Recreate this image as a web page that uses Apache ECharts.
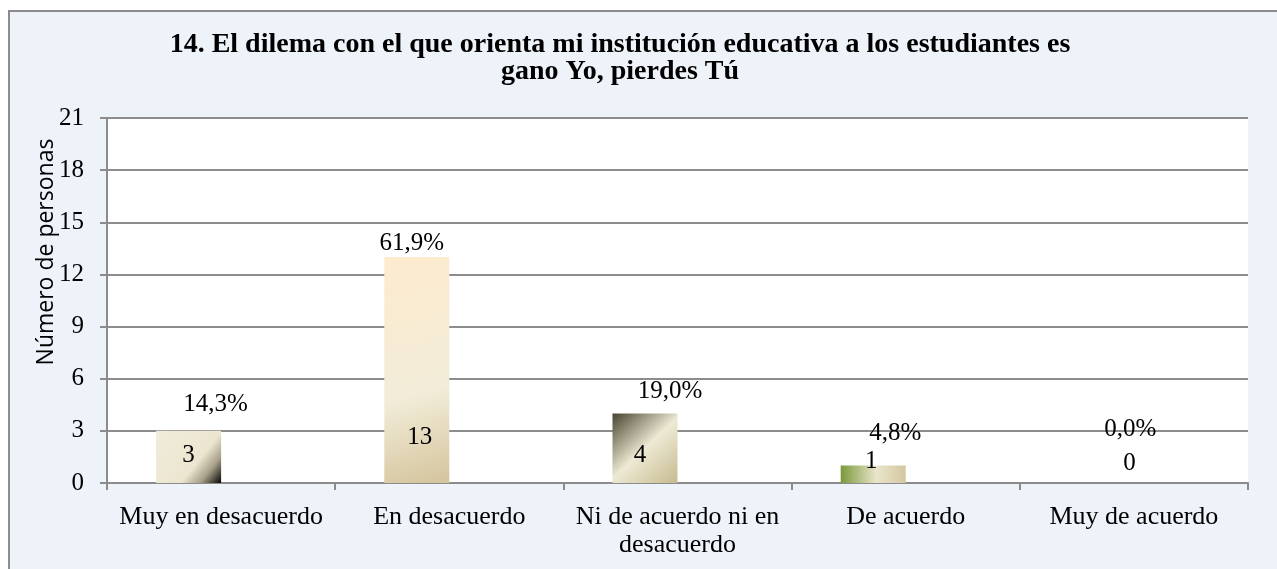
<!DOCTYPE html>
<html>
<head>
<meta charset="utf-8">
<script src="https://cdn.jsdelivr.net/npm/echarts@6/dist/echarts.min.js"></script>
<style>
  html, body { margin: 0; padding: 0; background: #fff; }
  #wrap { position: relative; width: 1277px; height: 569px; overflow: hidden; background: #fff; }
  #frame { position: absolute; left: 8px; top: 10px; width: 1300px; height: 600px;
           background: #EEF2F9; border: 2px solid #8c8c8c; box-sizing: border-box; }
  #chart { position: absolute; left: 0; top: 0; width: 1277px; height: 569px; }
</style>
</head>
<body>
<div id="wrap">
  <div id="frame"></div>
  <div id="chart"></div>
</div>
<script>
// datos
const categorias = ['Muy en desacuerdo', 'En desacuerdo', 'Ni de acuerdo ni en\ndesacuerdo', 'De acuerdo', 'Muy de acuerdo']
const personas = [3, 13, 4, 1, 0]
const porcentajes = ['14,3%', '61,9%', '19,0%', '4,8%', '0,0%']
const ticksY = { min: 0, max: 21, interval: 3 }

const serif = '"Liberation Serif", "Times New Roman", serif'

// relleno degradado de cada barra (estilo Excel)
const rellenos = [
  new echarts.graphic.LinearGradient(0, 0, 1, 1, [
    { offset: 0, color: '#F0ECDB' }, { offset: 0.62, color: '#ECE6D0' },
    { offset: 0.8, color: '#A8A088' }, { offset: 1, color: '#050403' }]),
  new echarts.graphic.LinearGradient(0, 0, 1, 1, [
    { offset: 0, color: '#FDEBCE' }, { offset: 0.6, color: '#F2ECD8' }, { offset: 1, color: '#D4C49C' }]),
  new echarts.graphic.LinearGradient(0, 0, 1, 1, [
    { offset: 0, color: '#48432E' }, { offset: 0.5, color: '#EDE9D3' }, { offset: 1, color: '#C6BA90' }]),
  new echarts.graphic.LinearGradient(0, 0, 1, 0, [
    { offset: 0, color: '#7A993A' }, { offset: 0.55, color: '#E9E5CB' }, { offset: 1, color: '#D4C7A0' }]),
  '#EEE8D2'
]
// desplazamientos de etiquetas como en el original
const despCuenta = [[0, -11], [3, -29], [-5, -11], [-2, -5], [28, -3]]
const despPct = [[-38, -9], [-70, 3], [-40, -5], [-43, -15], [-36, -37]]

const chart = echarts.init(document.getElementById('chart'))

const option = {
  animation: false,
  title: {
    text: '14. El dilema con el que orienta mi institución educativa a los estudiantes es\ngano Yo, pierdes Tú',
    left: 620,
    top: 31,
    padding: 0,
    textAlign: 'center',
    textStyle: { fontFamily: serif, fontWeight: 'bold', fontSize: 28, lineHeight: 27, color: '#000' }
  },
  graphic: [{
    type: 'text',
    x: 46,
    y: 252,
    rotation: Math.PI / 2,
    style: {
      text: 'Número de personas',
      font: '23px "Open Sans", sans-serif',
      textAlign: 'center',
      textVerticalAlign: 'middle',
      fill: '#000'
    }
  }],
  grid: {
    left: 107, right: 29, top: 118, bottom: 86,
    show: true, backgroundColor: '#fff', borderWidth: 0
  },
  xAxis: {
    type: 'category',
    data: categorias,
    axisLine: { lineStyle: { color: '#8c8c8c', width: 2 } },
    axisTick: { show: true, length: 7, lineStyle: { color: '#8c8c8c', width: 2 } },
    axisLabel: { color: '#000', fontFamily: serif, fontSize: 26, lineHeight: 28, margin: 20, interval: 0 }
  },
  yAxis: {
    type: 'value',
    min: ticksY.min, max: ticksY.max, interval: ticksY.interval,
    axisLine: { show: true, lineStyle: { color: '#8c8c8c', width: 2 } },
    axisTick: { show: true, length: 7, lineStyle: { color: '#8c8c8c', width: 2 } },
    axisLabel: { color: '#000', fontFamily: serif, fontSize: 25, margin: 23 },
    splitLine: { lineStyle: { color: '#8c8c8c', width: 2 } }
  },
  series: [
    {
      type: 'bar',
      barWidth: 65,
      barGap: 0,
      data: personas.map((v, i) => ({
        value: v,
        itemStyle: { color: rellenos[i] },
        label: { offset: despCuenta[i] }
      })),
      label: {
        show: true, position: 'insideBottom', distance: 5,
        fontFamily: serif, fontSize: 25, lineHeight: 24, color: '#000'
      }
    },
    {
      type: 'bar',
      barWidth: 65,
      barGap: 0,
      itemStyle: { color: 'rgba(0,0,0,0)' },
      data: personas.map((v, i) => ({
        value: v,
        label: { offset: despPct[i] }
      })),
      label: {
        show: true, position: 'top', distance: 5,
        fontFamily: serif, fontSize: 25, lineHeight: 24, color: '#000',
        formatter: p => porcentajes[p.dataIndex]
      }
    }
  ]
}

chart.setOption(option)
</script>
</body>
</html>
